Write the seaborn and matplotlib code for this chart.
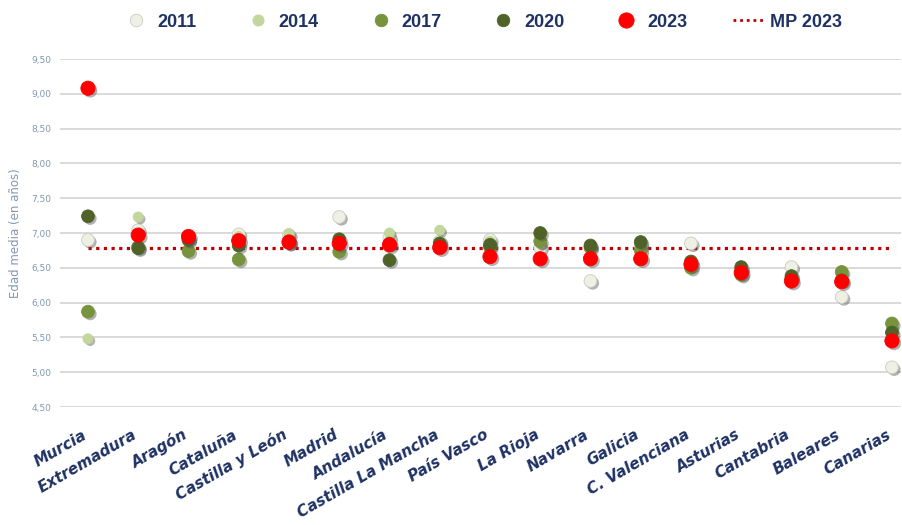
import matplotlib
matplotlib.use("Agg")
import matplotlib.pyplot as plt
import matplotlib.patheffects as pe
from matplotlib.lines import Line2D
from matplotlib.ticker import FuncFormatter, FixedLocator
import seaborn as sns
import pandas as pd
import numpy as np

regions = ["Murcia", "Extremadura", "Aragón", "Cataluña", "Castilla y León", "Madrid",
           "Andalucía", "Castilla La Mancha", "País Vasco", "La Rioja", "Navarra",
           "Galicia", "C. Valenciana", "Asturias", "Cantabria", "Baleares", "Canarias"]
years = ["2011", "2014", "2017", "2020", "2023"]
v2011 = [6.90, 7.04, 6.92, 6.98, 6.97, 7.23, 6.93, 6.88, 6.90, 6.79, 6.31, 6.82, 6.85, 6.47, 6.51, 6.08, 5.07]
v2014 = [5.48, 7.23, 6.95, 6.95, 6.99, 6.88, 7.00, 7.04, 6.88, 6.85, 6.80, 6.80, 6.55, 6.45, 6.40, 6.42, 5.65]
v2017 = [5.87, 6.80, 6.74, 6.62, 6.88, 6.73, 6.85, 6.83, 6.80, 6.88, 6.79, 6.75, 6.50, 6.40, 6.35, 6.44, 5.70]
v2020 = [7.24, 6.78, 6.90, 6.82, 6.86, 6.91, 6.61, 6.85, 6.83, 7.00, 6.82, 6.87, 6.59, 6.51, 6.38, 6.32, 5.57]
v2023 = [9.08, 6.97, 6.95, 6.89, 6.87, 6.85, 6.83, 6.79, 6.66, 6.63, 6.63, 6.63, 6.55, 6.43, 6.31, 6.30, 5.45]
mp_2023 = 6.79
mp_label = "MP 2023"
y_ticks = [4.5, 5.0, 5.5, 6.0, 6.5, 7.0, 7.5, 8.0, 8.5, 9.0, 9.5]
y_label = "Edad media (en años)"

series = {"2011": v2011, "2014": v2014, "2017": v2017, "2020": v2020, "2023": v2023}
palette = {"2011": "#EDF0E2", "2014": "#C3D69B", "2017": "#77933C", "2020": "#4F6228", "2023": "#FF0000"}
edges = {"2011": "#C9CBC4", "2014": "#C3D69B", "2017": "#77933C", "2020": "#4F6228", "2023": "#FF0000"}
sizes = {"2011": 85, "2014": 52, "2017": 85, "2020": 85, "2023": 105}

rows = []
for y in years:
    for r, v in zip(regions, series[y]):
        rows.append({"region": r, "year": y, "value": v})
df = pd.DataFrame(rows)
pos = {r: i for i, r in enumerate(regions)}
df["x"] = df["region"].map(pos)

sns.set_theme(style="white")
plt.rcParams["font.family"] = ["DejaVu Sans"]

fig = plt.figure(figsize=(9.02, 5.25), dpi=100)
ax = fig.add_axes([60/902, 1-407/525, 841/902, 348/525])

navy = "#1F3264"
slate = "#8497B0"

shadow = [pe.SimplePatchShadow(offset=(1.6, -1.6), shadow_rgbFace="#555555", alpha=0.45), pe.Normal()]

for y in years:
    sub = df[df["year"] == y]
    sns.scatterplot(data=sub, x="x", y="value", ax=ax, color=palette[y], s=sizes[y],
                    edgecolor=edges[y], linewidth=0.6, legend=False, zorder=3,
                    path_effects=shadow)

sns.lineplot(x=list(range(len(regions))), y=[mp_2023] * len(regions), ax=ax, sort=False,
             estimator=None, color="#C00000", linewidth=2.3, linestyle=(0, (1, 1.4)), zorder=2)

ax.set_ylim(4.5, 9.5)
ax.set_xlim(-0.557, 16.18)
ax.yaxis.set_major_locator(FixedLocator(y_ticks))
ax.yaxis.set_major_formatter(FuncFormatter(lambda v, p: f"{v:.2f}".replace(".", ",")))
ax.grid(axis="y", color="#D9D9D9", linewidth=1.4)
ax.set_axisbelow(True)
for s in ax.spines.values():
    s.set_visible(False)

ax.set_xticks(range(len(regions)))
ax.set_xticklabels(regions, rotation=30, ha="right", va="baseline", rotation_mode="anchor",
                   fontsize=11, fontweight="bold", fontstyle="italic", color=navy)
ax.tick_params(axis="x", length=0, pad=22)
ax.tick_params(axis="y", length=0, pad=6, labelsize=6.5, labelcolor=slate)
ax.set_xlabel("")
ax.set_ylabel(y_label, fontsize=8.5, color=slate)
ax.yaxis.set_label_coords(-0.045, 0.5)

handles = []
for y in years:
    handles.append(Line2D([], [], linestyle="none", marker="o", markersize=(9 if y != "2023" else 11) if y != "2014" else 8,
                          markerfacecolor=palette[y], markeredgecolor=edges[y], markeredgewidth=0.6, label=y))
handles.append(Line2D([], [], color="#C00000", linewidth=2.0, linestyle=(0, (1, 1.4)), label=mp_label))
leg = fig.legend(handles=handles, loc="center", bbox_to_anchor=(0.533, 0.958), ncol=6, frameon=False,
                 handlelength=1.83, handletextpad=0.25, columnspacing=2.5,
                 prop={"family": "Liberation Sans", "weight": "bold", "size": 13})
for t in leg.get_texts():
    t.set_color(navy)

fig.savefig("out.png", dpi=100)
